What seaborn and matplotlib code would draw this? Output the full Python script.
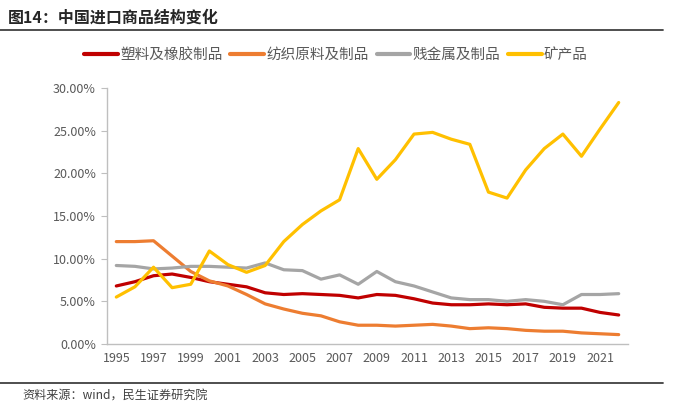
import pandas as pd
import seaborn as sns
import matplotlib.pyplot as plt
from matplotlib.ticker import PercentFormatter

years = list(range(1995, 2023))
series_names = ['塑料及橡胶制品', '纺织原料及制品', '贱金属及制品', '矿产品']
plastics = [6.8, 7.3, 8.0, 8.2, 7.8, 7.3, 7.0, 6.7, 6.0, 5.8, 5.9, 5.8, 5.7, 5.4,
            5.8, 5.7, 5.3, 4.8, 4.6, 4.6, 4.7, 4.6, 4.7, 4.3, 4.2, 4.2, 3.7, 3.4]
textiles = [12.0, 12.0, 12.1, 10.3, 8.5, 7.4, 6.8, 5.8, 4.7, 4.1, 3.6, 3.3, 2.6, 2.2,
            2.2, 2.1, 2.2, 2.3, 2.1, 1.8, 1.9, 1.8, 1.6, 1.5, 1.5, 1.3, 1.2, 1.1]
metals = [9.2, 9.1, 8.8, 8.9, 9.1, 9.1, 9.0, 8.9, 9.5, 8.7, 8.6, 7.6, 8.1, 7.0,
          8.5, 7.3, 6.8, 6.1, 5.4, 5.2, 5.2, 5.0, 5.2, 5.0, 4.6, 5.8, 5.8, 5.9]
minerals = [5.5, 6.7, 9.0, 6.6, 7.0, 10.9, 9.3, 8.4, 9.2, 12.0, 14.0, 15.6, 16.9, 22.9,
            19.3, 21.6, 24.6, 24.8, 24.0, 23.4, 17.8, 17.1, 20.4, 22.9, 24.6, 22.0, 25.2, 28.3]
palette = ['#C00000', '#ED7D31', '#A5A5A5', '#FFC000']

rows = []
for name, vals in zip(series_names, [plastics, textiles, metals, minerals]):
    for i, (y, v) in enumerate(zip(years, vals)):
        rows.append({'idx': i, 'year': y, 'share': v / 100, 'series': name})
df = pd.DataFrame(rows)

sns.set_style('white')
plt.rcParams['font.family'] = ['Noto Sans CJK SC', 'DejaVu Sans']

fig = plt.figure(figsize=(6.78, 4.16), dpi=100)
ax = fig.add_axes([107 / 678, 1 - 344 / 416, (628 - 107) / 678, (344 - 88) / 416])

sns.lineplot(data=df, x='idx', y='share', hue='series', hue_order=series_names,
             palette=palette, linewidth=2.3, ax=ax, legend=True)

ax.set_xlim(-0.5, len(years) - 0.5)
ax.set_ylim(0, 0.30)
ax.set_yticks([0, 0.05, 0.10, 0.15, 0.20, 0.25, 0.30])
ax.yaxis.set_major_formatter(PercentFormatter(1.0, decimals=2))
ax.set_xticks(list(range(0, len(years), 2)))
ax.set_xticklabels([str(y) for y in years[::2]])
ax.set_xlabel('')
ax.set_ylabel('')
ax.tick_params(axis='both', labelsize=9, colors='#595959')
ax.tick_params(axis='y', length=4, width=0.8, color='#BFBFBF', left=True, pad=4)
ax.tick_params(axis='x', length=0, pad=6)
for s in ['top', 'right']:
    ax.spines[s].set_visible(False)
for s in ['left', 'bottom']:
    ax.spines[s].set_color('#BFBFBF')
    ax.spines[s].set_linewidth(1.0)

leg = ax.legend(loc='center', bbox_to_anchor=(336 / 678, 1 - 55 / 416),
                bbox_transform=fig.transFigure, ncol=4, frameon=False,
                fontsize=10.5, handlelength=2.3, columnspacing=0.55, handletextpad=0.15)
for t in leg.get_texts():
    t.set_color('#595959')
for h in leg.get_lines():
    h.set_linewidth(3)

fig.text(8 / 678, 1 - 18 / 416, '图14：中国进口商品结构变化', fontsize=11.5,
         fontweight='bold', color='#262626', va='center', ha='left')
fig.add_artist(plt.Line2D([0, 663 / 678], [1 - 30 / 416, 1 - 30 / 416],
                          transform=fig.transFigure, color='#404040', linewidth=1.3))
fig.add_artist(plt.Line2D([0, 663 / 678], [1 - 383 / 416, 1 - 383 / 416],
                          transform=fig.transFigure, color='#404040', linewidth=1.3))
fig.text(22 / 678, 1 - 396 / 416, '资料来源：wind，民生证券研究院', fontsize=8.7,
         color='#404040', va='center', ha='left')

fig.savefig('out.png', dpi=100)
